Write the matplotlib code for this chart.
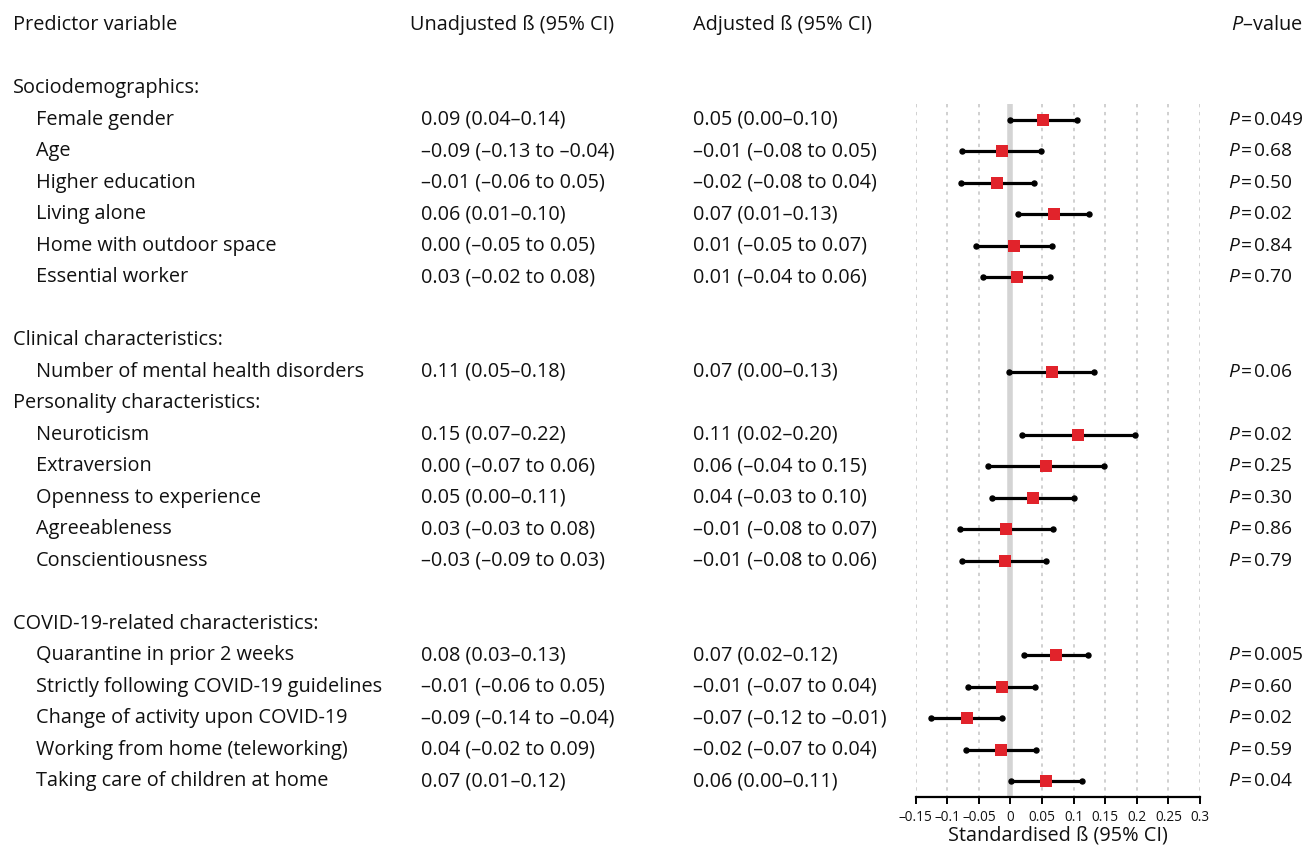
import matplotlib
matplotlib.use("Agg")
import matplotlib.pyplot as plt
from matplotlib import transforms

plt.rcParams['font.family'] = ['Open Sans', 'DejaVu Sans']
plt.rcParams['mathtext.fontset'] = 'custom'
plt.rcParams['mathtext.it'] = 'Open Sans:italic'
plt.rcParams['mathtext.rm'] = 'Open Sans'

# groups and their predictors
group_names = ["Sociodemographics:", "Clinical characteristics:",
               "Personality characteristics:", "COVID-19-related characteristics:"]
group_gap = [False, True, False, True]   # blank row before the group

predictors = ["Female gender", "Age", "Higher education", "Living alone",
              "Home with outdoor space", "Essential worker",
              "Number of mental health disorders",
              "Neuroticism", "Extraversion", "Openness to experience",
              "Agreeableness", "Conscientiousness",
              "Quarantine in prior 2 weeks", "Strictly following COVID-19 guidelines",
              "Change of activity upon COVID-19", "Working from home (teleworking)",
              "Taking care of children at home"]
group_of = [0, 0, 0, 0, 0, 0, 1, 2, 2, 2, 2, 2, 3, 3, 3, 3, 3]

unadjusted = ["0.09 (0.04–0.14)", "–0.09 (–0.13 to –0.04)", "–0.01 (–0.06 to 0.05)",
              "0.06 (0.01–0.10)", "0.00 (–0.05 to 0.05)", "0.03 (–0.02 to 0.08)",
              "0.11 (0.05–0.18)",
              "0.15 (0.07–0.22)", "0.00 (–0.07 to 0.06)", "0.05 (0.00–0.11)",
              "0.03 (–0.03 to 0.08)", "–0.03 (–0.09 to 0.03)",
              "0.08 (0.03–0.13)", "–0.01 (–0.06 to 0.05)", "–0.09 (–0.14 to –0.04)",
              "0.04 (–0.02 to 0.09)", "0.07 (0.01–0.12)"]
adjusted = ["0.05 (0.00–0.10)", "–0.01 (–0.08 to 0.05)", "–0.02 (–0.08 to 0.04)",
            "0.07 (0.01–0.13)", "0.01 (–0.05 to 0.07)", "0.01 (–0.04 to 0.06)",
            "0.07 (0.00–0.13)",
            "0.11 (0.02–0.20)", "0.06 (–0.04 to 0.15)", "0.04 (–0.03 to 0.10)",
            "–0.01 (–0.08 to 0.07)", "–0.01 (–0.08 to 0.06)",
            "0.07 (0.02–0.12)", "–0.01 (–0.07 to 0.04)", "–0.07 (–0.12 to –0.01)",
            "–0.02 (–0.07 to 0.04)", "0.06 (0.00–0.11)"]
p_values = ["0.049", "0.68", "0.50", "0.02", "0.84", "0.70", "0.06",
            "0.02", "0.25", "0.30", "0.86", "0.79",
            "0.005", "0.60", "0.02", "0.59", "0.04"]

est = [0.052, -0.014, -0.021, 0.069, 0.006, 0.010, 0.065, 0.107, 0.056, 0.035,
       -0.007, -0.009, 0.072, -0.014, -0.069, -0.015, 0.057]
lo = [0.000, -0.077, -0.078, 0.012, -0.054, -0.043, -0.002, 0.018, -0.036, -0.030,
      -0.080, -0.076, 0.022, -0.068, -0.126, -0.071, 0.001]
hi = [0.105, 0.049, 0.037, 0.124, 0.066, 0.063, 0.133, 0.197, 0.148, 0.101,
      0.067, 0.057, 0.123, 0.039, -0.013, 0.041, 0.113]

ticks = [-0.15, -0.1, -0.05, 0, 0.05, 0.1, 0.15, 0.2, 0.25, 0.3]
tick_labels = ["–0.15", "–0.1", "–0.05", "0", "0.05", "0.1", "0.15", "0.2", "0.25", "0.3"]

# work out row numbers (header is row 0)
group_rows = []
pred_rows = []
row = 0
for g in range(len(group_names)):
    row += 2 if (g == 0 or group_gap[g]) else 1
    group_rows.append(row)
    for i, gi in enumerate(group_of):
        if gi == g:
            row += 1
            pred_rows.append(row)

W, H = 1308, 846
fig = plt.figure(figsize=(W / 100, H / 100), dpi=100)
ax = fig.add_axes([915.7 / W, 49 / H, (1200 - 915.7) / W, (846 - 49) / H])
row_h = 31.5
ax.set_ylim(24 + (797 - 781) / row_h, -25 / row_h)
ax.set_xlim(-0.15, 0.3)

ink = "#111111"
fs = 14.3
tr = transforms.blended_transform_factory(fig.transFigure, ax.transData)

def fx(px):
    return px / W

# headers
ax.text(fx(13), 0, "Predictor variable", transform=tr, va="center", fontsize=fs, color=ink)
ax.text(fx(410), 0, "Unadjusted ß (95% CI)", transform=tr, va="center", fontsize=fs, color=ink)
ax.text(fx(693), 0, "Adjusted ß (95% CI)", transform=tr, va="center", fontsize=fs, color=ink)
ax.text(fx(1302), 0, "$P$–value", transform=tr, va="center", ha="right", fontsize=fs, color=ink)

for name, r in zip(group_names, group_rows):
    ax.text(fx(13), r, name, transform=tr, va="center", fontsize=fs, color=ink)

for i, r in enumerate(pred_rows):
    ax.text(fx(36), r, predictors[i], transform=tr, va="center", fontsize=fs, color=ink)
    ax.text(fx(421), r, unadjusted[i], transform=tr, va="center", fontsize=fs, color=ink)
    ax.text(fx(693), r, adjusted[i], transform=tr, va="center", fontsize=fs, color=ink)
    ax.text(fx(1228), r, "$P$\u200a=\u200a" + p_values[i], transform=tr, va="center",
            fontsize=13.8, color=ink)

# grid and zero line
top = group_rows[0] + 0.5
bottom = ax.get_ylim()[0]
for t in ticks:
    if t == 0:
        ax.vlines(0, top, bottom, color="#d4d4d4", lw=4, zorder=1)
    else:
        ax.vlines(t, top, bottom, color="#c4c4c4", lw=1.1, linestyles=(0, (2.2, 3)), zorder=1)

# CIs and estimates
ax.hlines(pred_rows, lo, hi, color="black", lw=2.3, zorder=3)
ax.plot(lo + hi, pred_rows + pred_rows, "o", ms=3.6, color="black", zorder=3)
ax.scatter(est, pred_rows, marker="s", s=72, color="#e1232b", zorder=4, linewidths=0)

for side in ["top", "right", "left"]:
    ax.spines[side].set_visible(False)
ax.spines["bottom"].set_linewidth(1.6)
ax.set_yticks([])
ax.set_xticks(ticks)
ax.set_xticklabels(tick_labels, fontsize=9.8, color=ink)
ax.tick_params(axis="x", length=5, width=1.4, pad=4)
ax.set_xlabel("Standardised ß (95% CI)", fontsize=fs, color=ink, labelpad=1)

fig.savefig("out.png", dpi=100)
